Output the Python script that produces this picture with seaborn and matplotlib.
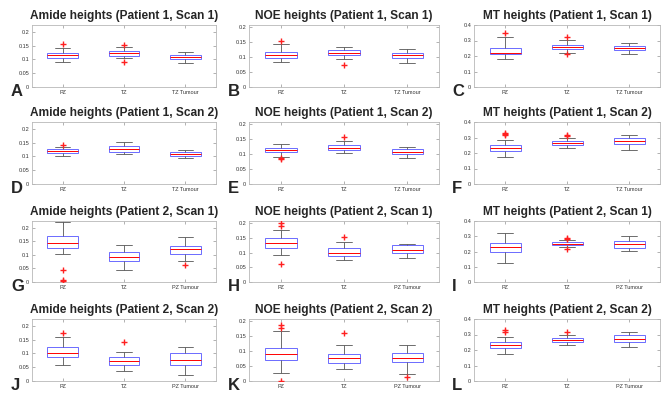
import matplotlib
matplotlib.use("Agg")
import matplotlib.pyplot as plt
import seaborn as sns
import pandas as pd

# ---------------- data (five-number summaries: lower whisker, Q1, median, Q3, upper whisker) ----
cats_tz = ["PZ", "TZ", "TZ Tumour"]
cats_pz = ["PZ", "TZ", "PZ Tumour"]

amide_p1s1 = [[0.0895, 0.107, 0.115, 0.1244, 0.142], [0.105, 0.113, 0.122, 0.130, 0.145], [0.087, 0.100, 0.108, 0.117, 0.128]]
amide_p1s1_out = [[0.156], [0.154, 0.091], []]
noe_p1s1 = [[0.0835, 0.097, 0.107, 0.116, 0.143], [0.095, 0.106, 0.115, 0.124, 0.134], [0.079, 0.097, 0.107, 0.115, 0.128]]
noe_p1s1_out = [[0.152], [0.074], []]
mt_p1s1 = [[0.18, 0.21, 0.222, 0.2525, 0.323], [0.22, 0.246, 0.26, 0.273, 0.303], [0.212, 0.238, 0.252, 0.265, 0.283]]
mt_p1s1_out = [[0.35], [0.32, 0.21], []]

amide_p1s2 = [[0.1026, 0.1115, 0.119, 0.1256, 0.135], [0.109, 0.117, 0.127, 0.138, 0.154], [0.096, 0.101, 0.109, 0.115, 0.122]]
amide_p1s2_out = [[0.142], [], []]
noe_p1s2 = [[0.0915, 0.106, 0.114, 0.121, 0.132], [0.103, 0.112, 0.121, 0.129, 0.143], [0.087, 0.0995, 0.1075, 0.1155, 0.122]]
noe_p1s2_out = [[0.086, 0.082], [0.156], []]
mt_p1s2 = [[0.174, 0.212, 0.232, 0.254, 0.285], [0.234, 0.249, 0.265, 0.278, 0.30], [0.221, 0.256, 0.278, 0.298, 0.318]]
mt_p1s2_out = [[0.313, 0.32, 0.329], [0.307, 0.318], []]

amide_p2s1 = [[0.102, 0.124, 0.143, 0.168, 0.222], [0.046, 0.078, 0.094, 0.109, 0.136], [0.078, 0.103, 0.123, 0.132, 0.166]]
amide_p2s1_out = [[0.045, 0.009, 0.004], [], [0.063]]
noe_p2s1 = [[0.091, 0.115, 0.131, 0.148, 0.178], [0.075, 0.089, 0.100, 0.115, 0.135], [0.080, 0.098, 0.109, 0.124, 0.129]]
noe_p2s1_out = [[0.200, 0.191, 0.062], [0.153], []]
mt_p2s1 = [[0.124, 0.20, 0.228, 0.254, 0.32], [0.23, 0.241, 0.252, 0.263, 0.274], [0.204, 0.222, 0.246, 0.267, 0.30]]
mt_p2s1_out = [[], [0.291, 0.283, 0.217], []]

amide_p2s2 = [[0.058, 0.0867, 0.101, 0.124, 0.159], [0.036, 0.0566, 0.0735, 0.0855, 0.106], [0.02, 0.0566, 0.077, 0.100, 0.122]]
amide_p2s2_out = [[0.175], [0.142], []]
noe_p2s2 = [[0.027, 0.071, 0.0908, 0.1116, 0.166], [0.040, 0.060, 0.0777, 0.0897, 0.12], [0.022, 0.0645, 0.0766, 0.093, 0.12]]
noe_p2s2_out = [[0.186, 0.177, 0.0], [0.159], [0.013]]
mt_p2s2 = [[0.174, 0.215, 0.234, 0.253, 0.285], [0.23, 0.249, 0.264, 0.277, 0.296], [0.219, 0.249, 0.272, 0.294, 0.319]]
mt_p2s2_out = [[0.33, 0.319], [0.315], []]

titles = [
    "Amide heights (Patient 1, Scan 1)", "NOE heights (Patient 1, Scan 1)", "MT heights (Patient 1, Scan 1)",
    "Amide heights (Patient 1, Scan 2)", "NOE heights (Patient 1, Scan 2)", "MT heights (Patient 1, Scan 2)",
    "Amide heights (Patient 2, Scan 1)", "NOE heights (Patient 2, Scan 1)", "MT heights (Patient 2, Scan 1)",
    "Amide heights (Patient 2, Scan 2)", "NOE heights (Patient 2, Scan 2)", "MT heights (Patient 2, Scan 2)",
]
letters = list("ABCDEFGHIJKL")
amide_ticks = [0, 0.05, 0.1, 0.15, 0.2]
noe_ticks = [0, 0.05, 0.1, 0.15, 0.2]
mt_ticks = [0, 0.1, 0.2, 0.3, 0.4]
tick_labels_small = ["0", "0.05", "0.1", "0.15", "0.2"]
tick_labels_mt = ["0", "0.1", "0.2", "0.3", "0.4"]

panels = [
    (amide_p1s1, amide_p1s1_out, cats_tz), (noe_p1s1, noe_p1s1_out, cats_tz), (mt_p1s1, mt_p1s1_out, cats_tz),
    (amide_p1s2, amide_p1s2_out, cats_tz), (noe_p1s2, noe_p1s2_out, cats_tz), (mt_p1s2, mt_p1s2_out, cats_tz),
    (amide_p2s1, amide_p2s1_out, cats_pz), (noe_p2s1, noe_p2s1_out, cats_pz), (mt_p2s1, mt_p2s1_out, cats_pz),
    (amide_p2s2, amide_p2s2_out, cats_pz), (noe_p2s2, noe_p2s2_out, cats_pz), (mt_p2s2, mt_p2s2_out, cats_pz),
]

# ---------------- style ----------------
sns.set_style("white")
plt.rcParams["font.family"] = ["Liberation Sans", "DejaVu Sans"]

W, H = 664, 396
fig = plt.figure(figsize=(W / 100, H / 100), dpi=100)

col_px = [(32, 216), (249, 439), (474, 660)]
row_px = [(25, 87), (122, 184), (221, 282), (319, 381)]
letter_x = [11, 228, 452]

box_edge = "#6b6bff"
whisk = "#555555"
frame = "#b8b8b8"

for i, (stats, outs, cats) in enumerate(panels):
    r, c = divmod(i, 3)
    x0, x1 = col_px[c]
    y0, y1 = row_px[r]
    ax = fig.add_axes([x0 / W, 1 - y1 / H, (x1 - x0) / W, (y1 - y0) / H])

    box_df = pd.DataFrame({
        "cat": [cat for cat, s in zip(cats, stats) for _ in s],
        "val": [v for s in stats for v in s],
    })
    sns.boxplot(data=box_df, x="cat", y="val", order=cats, ax=ax, whis=(0, 100),
                width=0.5, showfliers=False, linewidth=0.7, color="white")
    for cont in ax.containers:
        for b in getattr(cont, "boxes", []):
            b.set_edgecolor(box_edge)
            b.set_facecolor("white")
            b.set_linewidth(0.7)
        for m in getattr(cont, "medians", []):
            m.set_color("red")
            m.set_linewidth(0.7)
        for w in list(getattr(cont, "whiskers", [])) + list(getattr(cont, "caps", [])):
            w.set_color(whisk)
            w.set_linewidth(0.6)

    out_df = pd.DataFrame({
        "cat": [cat for cat, o in zip(cats, outs) for _ in o],
        "val": [v for o in outs for v in o],
    })
    sns.stripplot(data=out_df, x="cat", y="val", order=cats, ax=ax, jitter=False,
                  marker="+", color="red", size=4, linewidth=1.0)
    for coll in ax.collections:
        coll.set_edgecolor("#ff2020")
        coll.set_facecolor("#ff2020")
        coll.set_linewidth(1.0)
        coll.set_zorder(5)

    kind = i % 3
    if kind == 0:
        ax.set_ylim(0, 0.225)
        ax.set_yticks(amide_ticks, tick_labels_small)
    elif kind == 1:
        ax.set_ylim(0, 0.207)
        ax.set_yticks(noe_ticks, tick_labels_small)
    else:
        ax.set_ylim(0, 0.4)
        ax.set_yticks(mt_ticks, tick_labels_mt)
    ax.set_xlim(-0.5, 2.5)
    ax.set_xlabel("")
    ax.set_ylabel("")
    ax.tick_params(axis="both", which="both", direction="in", length=2, width=0.4,
                   color="#777777", labelsize=4, labelcolor="#333333", pad=2,
                   top=True, right=True, bottom=True, left=True)
    for sp in ax.spines.values():
        sp.set_color(frame)
        sp.set_linewidth(0.6)
    ax.set_title(titles[i], fontsize=8.6, fontweight="bold", pad=4)
    fig.text(letter_x[c] / W, 1 - (y1 + 9) / H, letters[i], fontsize=12,
             fontweight="bold", ha="left", va="baseline")

fig.savefig("out.png", dpi=100)
